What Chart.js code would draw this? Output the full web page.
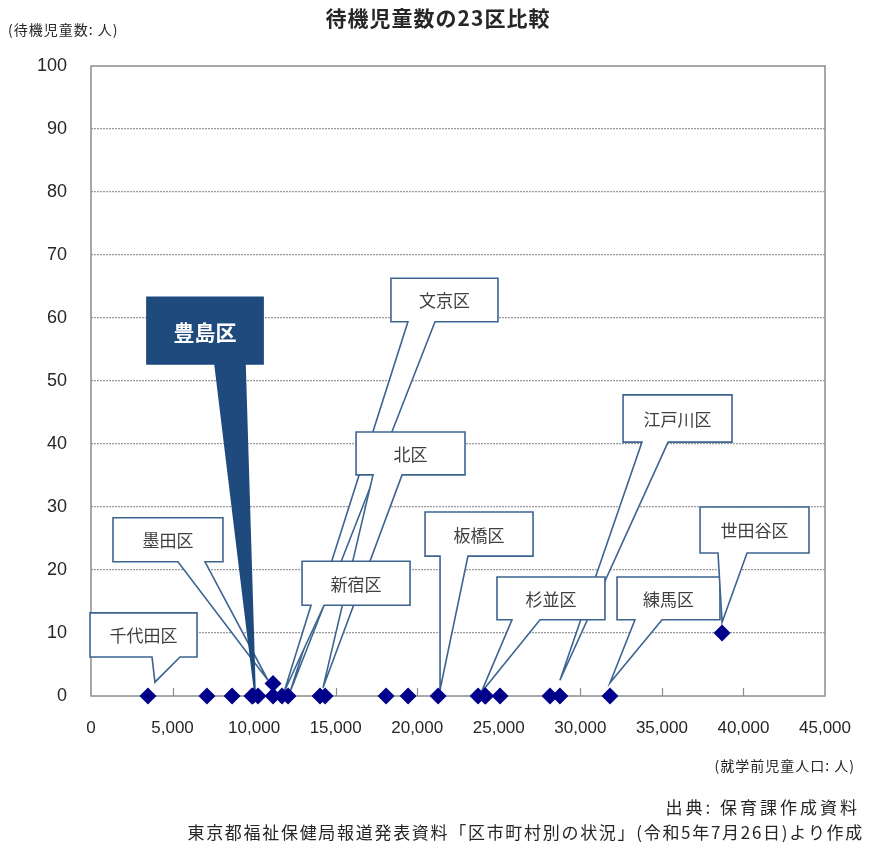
<!DOCTYPE html>
<html>
<head>
<meta charset="utf-8">
<script src="https://cdn.jsdelivr.net/npm/chart.js@4.4.0/dist/chart.umd.min.js"></script>
<style>
  html, body { margin: 0; padding: 0; background: #ffffff; }
  #wrap { width: 876px; height: 852px; position: relative; }
</style>
</head>
<body>
<div id="wrap"><canvas id="waitingChart"></canvas></div>
<script>
// 23 wards: preschool population (x) vs. waiting children (y); blank names are unlabeled in the source
const wardNames = ['千代田区', '', '', '', '', '豊島区', '墨田区', '', '新宿区', '文京区', '北区', '',
  '', '', '板橋区', '杉並区', '', '', '', '', '江戸川区', '練馬区', '世田谷区'];
const preschoolPop = [3490, 7110, 8650, 9870, 9920, 10240, 11160, 11160, 11710, 12080, 14040, 14350,
  18090, 19440, 21280, 23730, 24160, 24190, 25080, 28140, 28750, 31820, 38690];
const waitingChildren = [0, 0, 0, 0, 0, 0, 2, 0, 0, 0, 0, 0,
  0, 0, 0, 0, 0, 0, 0, 0, 0, 0, 10];

const xTicks = [0, 5000, 10000, 15000, 20000, 25000, 30000, 35000, 40000, 45000];
const yTicks = [0, 10, 20, 30, 40, 50, 60, 70, 80, 90, 100];

// callout layout in data units: box [x1, x2, yTop, yBottom], tail base [x1, x2], tip [x, y]
const callouts = [
  { text: '文京区', box: [18390, 24950, 66.3, 59.4], base: [19430, 21090], tip: [12200, 0.6] },
  { text: '北区', box: [16250, 22930, 41.9, 35.1], base: [17290, 19070], tip: [14220, 1.3] },
  { text: '江戸川区', box: [32620, 39300, 47.8, 40.3], base: [33780, 35380], tip: [28750, 2.5] },
  { text: '新宿区', box: [12940, 19560, 21.4, 14.4], base: [13490, 14290], tip: [11830, 0.6] },
  { text: '杉並区', box: [24890, 31510, 18.9, 12.1], base: [25810, 27530], tip: [23910, 0.5] },
  { text: '練馬区', box: [32250, 38560, 18.9, 12.1], base: [33350, 35010], tip: [31820, 2.1] },
  { text: '板橋区', box: [20480, 27100, 29.2, 22.2], base: [21400, 23110], tip: [21400, 1.0] },
  { text: '世田谷区', box: [37340, 44020, 30.0, 22.7], base: [38440, 40220], tip: [38690, 11.7] },
  { text: '千代田区', box: [-60, 6500, 13.2, 6.2], base: [3740, 5460], tip: [3920, 2.2] },
  { text: '墨田区', box: [1350, 8090, 28.3, 21.3], base: [5330, 6990], tip: [10850, 2.5] },
  { text: '豊島区', box: [3430, 10550, 63.3, 52.7], base: [7600, 9440], tip: [10060, 0.2], highlight: true }
];

(function() {
  const chartConfig = {
    colors: {
      marker: '#00008b',
      calloutLine: '#3d6491',
      highlight: '#1f4a7e',
      text: '#262626',
      calloutText: '#404040',
      frame: '#8c8c8c',
      grid: '#9a9a9a',
      white: '#ffffff'
    },
    fonts: {
      latin: "'Liberation Sans', 'Noto Sans CJK JP', sans-serif",
      cjk: "'Noto Sans CJK JP', 'Liberation Sans', sans-serif"
    }
  };

  const framePlugin = {
    id: 'frame',
    beforeDatasetsDraw(chart) {
      const { ctx, chartArea: a, scales: { x } } = chart;
      ctx.save();
      ctx.strokeStyle = chartConfig.colors.frame;
      ctx.lineWidth = 1.5;
      ctx.strokeRect(a.left, a.top, a.right - a.left, a.bottom - a.top);
      // inward tick marks on the x axis
      ctx.lineWidth = 1.2;
      xTicks.slice(1, -1).forEach(v => {
        const px = Math.round(x.getPixelForValue(v)) + 0.5;
        ctx.beginPath();
        ctx.moveTo(px, a.bottom);
        ctx.lineTo(px, a.bottom - 8);
        ctx.stroke();
      });
      ctx.restore();
    }
  };

  const calloutPlugin = {
    id: 'callouts',
    beforeDatasetsDraw(chart) {
      const { ctx, scales: { x, y } } = chart;
      ctx.save();
      callouts.forEach(c => {
        const L = x.getPixelForValue(c.box[0]), R = x.getPixelForValue(c.box[1]);
        const T = y.getPixelForValue(c.box[2]), B = y.getPixelForValue(c.box[3]);
        const b1 = x.getPixelForValue(c.base[0]), b2 = x.getPixelForValue(c.base[1]);
        const tx = x.getPixelForValue(c.tip[0]), ty = y.getPixelForValue(c.tip[1]);
        ctx.beginPath();
        ctx.moveTo(L, T);
        ctx.lineTo(R, T);
        ctx.lineTo(R, B);
        ctx.lineTo(b2, B);
        ctx.lineTo(tx, ty);
        ctx.lineTo(b1, B);
        ctx.lineTo(L, B);
        ctx.closePath();
        ctx.fillStyle = c.highlight ? chartConfig.colors.highlight : chartConfig.colors.white;
        ctx.fill();
        ctx.lineWidth = 1.6;
        ctx.strokeStyle = c.highlight ? chartConfig.colors.highlight : chartConfig.colors.calloutLine;
        ctx.stroke();

        ctx.fillStyle = c.highlight ? chartConfig.colors.white : chartConfig.colors.calloutText;
        ctx.font = (c.highlight ? 'bold 21px ' : '17px ') + chartConfig.fonts.cjk;
        ctx.textAlign = 'center';
        ctx.textBaseline = 'middle';
        ctx.fillText(c.text, (L + R) / 2, (T + B) / 2 + 1);
      });
      ctx.restore();
    }
  };

  const textPlugin = {
    id: 'texts',
    afterDraw(chart) {
      const { ctx } = chart;
      ctx.save();
      ctx.fillStyle = chartConfig.colors.text;
      ctx.textBaseline = 'middle';

      ctx.font = 'bold 21px ' + chartConfig.fonts.cjk;
      ctx.textAlign = 'center';
      ctx.letterSpacing = '1px';
      ctx.fillText('待機児童数の23区比較', 438, 18);

      ctx.font = '14px ' + chartConfig.fonts.cjk;
      ctx.textAlign = 'left';
      ctx.letterSpacing = '1px';
      ctx.fillText('(待機児童数: 人)', 8, 30);

      ctx.textAlign = 'right';
      ctx.letterSpacing = '1px';
      ctx.fillText('(就学前児童人口: 人)', 855, 766);

      ctx.font = '17px ' + chartConfig.fonts.cjk;
      ctx.letterSpacing = '3px';
      ctx.fillText('出典: 保育課作成資料', 860, 808);
      ctx.letterSpacing = '1.7px';
      ctx.fillText('東京都福祉保健局報道発表資料「区市町村別の状況」(令和5年7月26日)より作成', 864, 833);
      ctx.restore();
    }
  };

  const points = preschoolPop.map((p, i) => ({ x: p, y: waitingChildren[i], name: wardNames[i] }));

  new Chart(document.getElementById('waitingChart'), {
    type: 'scatter',
    data: {
      datasets: [{
        label: '待機児童数',
        data: points,
        pointStyle: 'rectRot',
        pointRadius: 8.5,
        backgroundColor: chartConfig.colors.marker,
        borderWidth: 0,
        clip: false
      }]
    },
    options: {
      responsive: true,
      maintainAspectRatio: false,
      animation: false,
      events: [],
      layout: { padding: { top: 66, right: 51, bottom: 106, left: 0 } },
      plugins: {
        legend: { display: false },
        title: { display: false },
        tooltip: { enabled: false }
      },
      scales: {
        x: {
          type: 'linear',
          min: 0,
          max: 45000,
          afterFit: s => { s.height = 50; },
          afterBuildTicks: s => { s.ticks = xTicks.map(v => ({ value: v })); },
          ticks: {
            color: chartConfig.colors.text,
            font: { family: chartConfig.fonts.latin, size: 17 },
            padding: 14,
            maxRotation: 0,
            callback: v => v.toLocaleString('en-US')
          },
          grid: { display: false },
          border: { display: false }
        },
        y: {
          min: 0,
          max: 100,
          afterFit: s => { s.width = 91; },
          afterBuildTicks: s => { s.ticks = yTicks.map(v => ({ value: v })); },
          ticks: {
            color: chartConfig.colors.text,
            font: { family: chartConfig.fonts.latin, size: 18 },
            padding: 24
          },
          grid: {
            drawTicks: false,
            lineWidth: 1.3,
            color: ctx => (ctx.tick && (ctx.tick.value === 0 || ctx.tick.value === 100)) ? 'rgba(0,0,0,0)' : chartConfig.colors.grid
          },
          border: { display: false, dash: [2, 1] }
        }
      }
    },
    plugins: [framePlugin, calloutPlugin, textPlugin]
  });
})();
</script>
</body>
</html>
